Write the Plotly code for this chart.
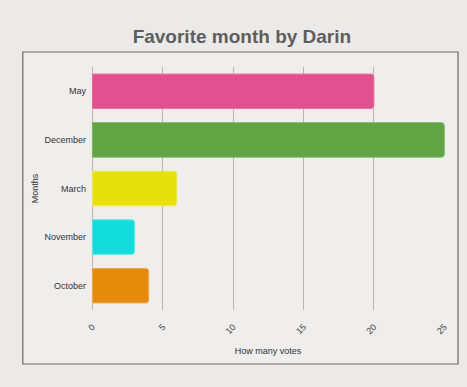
import plotly.graph_objects as go

months = ["May", "December", "March", "November", "October"]
votes = [20, 25, 6, 3, 4]
colors = ["#e2508f", "#62a443", "#e6e10c", "#12dcdc", "#e68a0c"]
line_colors = ["#e8739f", "#7db866", "#eeea55", "#5ee6e6", "#eeaa50"]
x_ticks = [0, 5, 10, 15, 20, 25]

fig = go.Figure(go.Bar(
    y=months, x=votes, orientation="h",
    marker=dict(color=colors, line=dict(color=line_colors, width=1), cornerradius=3),
    width=0.71,
))

fig.add_shape(type="rect", xref="paper", yref="paper",
              x0=-0.1926, x1=1.0368, y0=-0.2222, y1=1.0617,
              line=dict(color="#6a6a6a", width=1.2), fillcolor="#efeeec", layer="below")

fig.update_layout(
    width=467, height=387,
    margin=dict(l=91, r=22, t=67, b=77),
    paper_bgcolor="#ebeae8", plot_bgcolor="rgba(0,0,0,0)",
    font=dict(family="Liberation Sans, Arial, sans-serif", color="#333333"),
    title=dict(text="<b>Favorite month by Darin</b>", x=0.518, xanchor="center",
               y=0.905, yanchor="middle", font=dict(size=19, color="#5e5e5e")),
    showlegend=False,
    xaxis=dict(range=[-0.1, 25.05], tickvals=x_ticks, ticktext=[str(v) for v in x_ticks],
               tickangle=-45, tickfont=dict(size=9, color="#444"),
               showgrid=True, gridcolor="#b8b8b8", gridwidth=1, zeroline=False,
               showline=False, ticks="", ticklen=0, ticklabelstandoff=9,
               title=dict(text="How many votes", font=dict(size=9, color="#333"), standoff=12)),
    yaxis=dict(autorange="reversed", tickfont=dict(size=9, color="#333"), ticks="",
               ticklabelstandoff=4, showgrid=False, showline=False,
               title=dict(text="Months", font=dict(size=9, color="#333"), standoff=4)),
)

fig.write_html("out.html")
